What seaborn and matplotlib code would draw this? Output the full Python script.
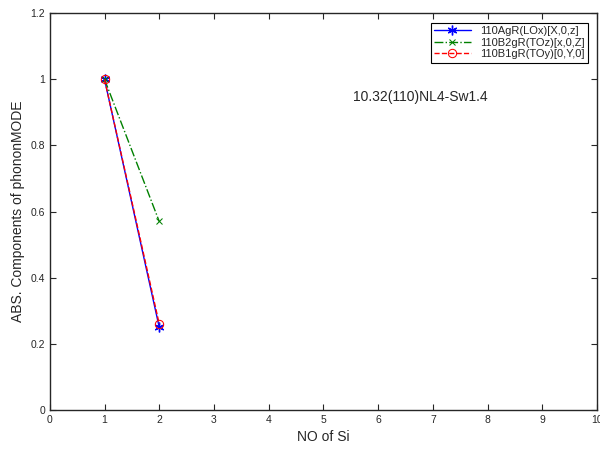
import pandas as pd
import seaborn as sns
import matplotlib.pyplot as plt

# Data
x_si = [1, 2]
agr = [1.0, 0.25]
b2gr = [1.0, 0.57]
b1gr = [1.0, 0.26]
labels = ["110AgR(LOx)[X,0,z]", "110B2gR(TOz)[x,0,Z]", "110B1gR(TOy)[0,Y,0]"]

sns.set_style("ticks")
plt.rcParams['font.family'] = ['Liberation Sans', 'DejaVu Sans']

fig = plt.figure(figsize=(6, 4.55), dpi=100)
ax = fig.add_axes([0.083, 0.099, 0.912, 0.872])

sns.lineplot(x=x_si, y=agr, ax=ax, color="blue", marker=(6, 2, 0), markersize=7,
             linewidth=1, linestyle="-", label=labels[0], mec="blue", mew=1)
sns.lineplot(x=x_si, y=b2gr, ax=ax, color="green", marker="x", markersize=5,
             linewidth=1, linestyle="-.", label=labels[1], mec="green")
sns.lineplot(x=x_si, y=b1gr, ax=ax, color="red", marker="o", markersize=6,
             linewidth=1, linestyle="--", label=labels[2], mec="red", mfc="none")

ax.set_xlim(0, 10)
ax.set_ylim(0, 1.2)
ax.set_xticks(range(0, 11))
ax.set_yticks([0, 0.2, 0.4, 0.6, 0.8, 1, 1.2])
ax.set_yticklabels(["0", "0.2", "0.4", "0.6", "0.8", "1", "1.2"])
ax.tick_params(direction="in", top=True, right=True, labelsize=7.5, length=4, width=0.8)
for s in ax.spines.values():
    s.set_linewidth(1)

ax.set_xlabel("NO of Si", fontsize=10)
ax.set_ylabel("ABS. Components of phononMODE", fontsize=10)
ax.text(5.55, 0.935, "10.32(110)NL4-Sw1.4", fontsize=10)

leg = ax.legend(loc="upper right", fontsize=8, frameon=True, fancybox=False,
                edgecolor="black", framealpha=1, handlelength=3.3,
                borderpad=0.3, labelspacing=0.15, bbox_to_anchor=(0.993, 0.99))
leg.get_frame().set_linewidth(0.8)

fig.savefig("out.png", dpi=100)
